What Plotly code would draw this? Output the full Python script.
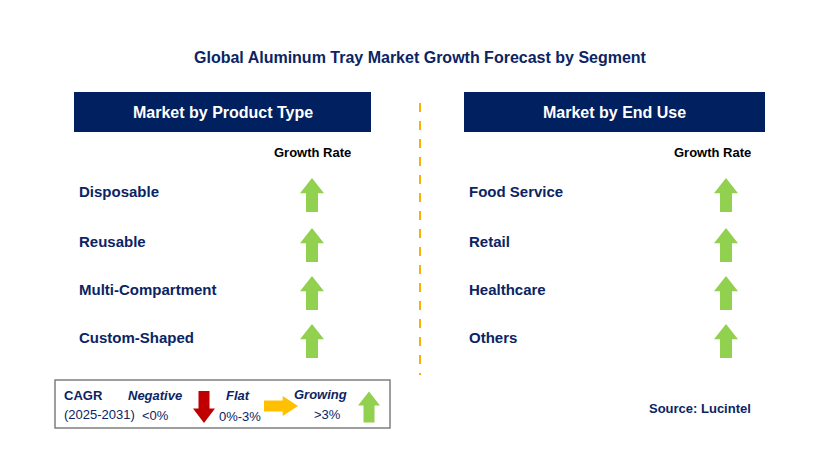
import plotly.graph_objects as go

title = "Global Aluminum Tray Market Growth Forecast by Segment"
panel_titles = ["Market by Product Type", "Market by End Use"]
product_types = ["Disposable", "Reusable", "Multi-Compartment", "Custom-Shaped"]
end_uses = ["Food Service", "Retail", "Healthcare", "Others"]
growth = ["up", "up", "up", "up"]
row_y = [191, 241, 289, 337]

NAVY = "#0b2463"
GREEN = "#92d050"
RED = "#c00000"
YELLOW = "#ffc000"
FONT = "Liberation Sans"

fig = go.Figure()


def arrow(cx, cy, direction, color, size=34, w=12, hw=24):
    h = size / 2
    hl = size * 0.45
    if direction == "up":
        xs = [cx - w/2, cx - w/2, cx - hw/2, cx, cx + hw/2, cx + w/2, cx + w/2, cx - w/2]
        ys = [cy + h, cy - h + hl, cy - h + hl, cy - h, cy - h + hl, cy - h + hl, cy + h, cy + h]
    elif direction == "down":
        xs = [cx - w/2, cx - w/2, cx - hw/2, cx, cx + hw/2, cx + w/2, cx + w/2, cx - w/2]
        ys = [cy - h, cy + h - hl, cy + h - hl, cy + h, cy + h - hl, cy + h - hl, cy - h, cy - h]
    else:
        xs = [cx - h, cx + h - hl, cx + h - hl, cx + h, cx + h - hl, cx + h - hl, cx - h, cx - h]
        ys = [cy - w/2, cy - w/2, cy - hw/2, cy, cy + hw/2, cy + w/2, cy + w/2, cy - w/2]
    fig.add_trace(go.Scatter(x=xs, y=ys, fill="toself", fillcolor=color, mode="lines",
                             line=dict(width=0, color=color), hoverinfo="skip", showlegend=False))


def text(x, y, s, size=14, color=NAVY, bold=True, italic=False, anchor="left"):
    if bold:
        s = f"<b>{s}</b>"
    if italic:
        s = f"<i>{s}</i>"
    fig.add_annotation(x=x, y=y, text=s, showarrow=False, xanchor=anchor, yanchor="middle",
                       font=dict(family=FONT, size=size, color=color))


text(420, 57, title, size=16, anchor="center")

panels = [(74, 371, 312, 312, 77, product_types), (464, 765, 726, 712, 467, end_uses)]
for (x0, x1, ax, gx, lx, labels), ptitle in zip(panels, panel_titles):
    fig.add_shape(type="rect", x0=x0, x1=x1, y0=92, y1=132, fillcolor="#002060", line_width=0)
    text((x0 + x1) / 2, 112, ptitle, size=16, color="white", anchor="center")
    text(gx, 152, "Growth Rate", size=13, color="black", anchor="center")
    for lab, yy, g in zip(labels, row_y, growth):
        text(lx, yy, lab, size=15)
        arrow(ax, yy + 4, g, GREEN)

fig.add_shape(type="line", x0=420, x1=420, y0=103, y1=375,
              line=dict(color="#f5b400", width=2, dash="dash"))

# legend box
fig.add_shape(type="rect", x0=55, x1=390, y0=380, y1=428, line=dict(color="#7f7f7f", width=1.5))
text(62, 395, "CAGR", size=13)
text(62, 414, "(2025-2031)", size=13, bold=False)
text(155, 395, "Negative", size=13, italic=True, anchor="center")
text(155, 415, "<0%", size=13, bold=False, anchor="center")
arrow(204, 407, "down", RED, size=32, w=11, hw=22)
text(238, 395, "Flat", size=13, italic=True, anchor="center")
text(240, 416, "0%-3%", size=13, bold=False, anchor="center")
arrow(281, 406, "right", YELLOW, size=34, w=11, hw=20)
text(320, 394, "Growing", size=13, italic=True, anchor="center")
text(327, 414, ">3%", size=13, bold=False, anchor="center")
arrow(369, 407, "up", GREEN, size=31, w=11, hw=22)

text(700, 408, "Source: Lucintel", size=13, anchor="center")

# page body adds an 8px margin; shift the coordinate window to compensate
fig.update_layout(
    width=829, height=456, margin=dict(l=0, r=0, t=0, b=0),
    plot_bgcolor="white", paper_bgcolor="white",
    xaxis=dict(range=[8, 837], visible=False, fixedrange=True),
    yaxis=dict(range=[464, 8], visible=False, fixedrange=True),
)
fig.write_html("out.html")
